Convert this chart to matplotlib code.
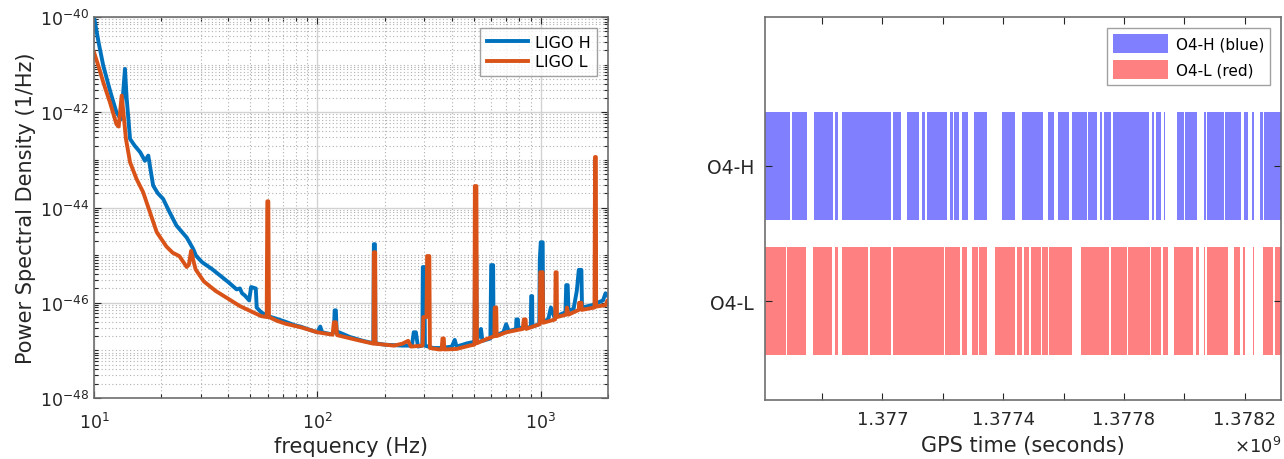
import numpy as np
import matplotlib.pyplot as plt
from matplotlib.patches import Patch
from matplotlib.ticker import LogLocator, NullFormatter, FixedLocator, FuncFormatter

# ---- PSD traces (frequency in Hz, log10 of PSD in 1/Hz) ----
freq_h = [10.0, 10.5, 11.0, 11.8, 12.6, 13.2, 13.5, 13.76, 14.0, 14.5, 15.2, 16.1, 16.9, 17.5,
          17.9, 18.4, 19.3, 20.4, 21.8, 23.4, 26.0, 27.8, 28.6, 30.5, 33.7, 36.5, 40.0, 43.5,
          45.0, 46.0, 47.4, 49.5, 50.5, 53.0, 53.5, 56.0, 60.0, 65.0, 72.0, 80.0, 84.0, 90.0,
          100.0, 103.0, 105.0, 115.0, 118.5, 119.5, 121.0, 122.0, 140.0, 160.0, 178.0, 179.0,
          181.0, 182.0, 200.0, 240.0, 265.0, 270.0, 276.0, 282.0, 295.0, 296.5, 301.0, 303.0,
          330.0, 360.0, 400.0, 412.0, 420.0, 470.0, 505.0, 508.0, 514.0, 517.0, 540.0, 548.0,
          595.0, 600.0, 612.0, 615.0, 680.0, 700.0, 720.0, 775.0, 778.0, 790.0, 795.0, 850.0,
          880.0, 903.0, 906.0, 915.0, 918.0, 985.0, 990.0, 1000.0, 1020.0, 1025.0, 1080.0,
          1110.0, 1150.0, 1290.0, 1300.0, 1320.0, 1330.0, 1400.0, 1450.0, 1480.0, 1520.0,
          1530.0, 1700.0, 1900.0, 1950.0, 2000.0]
psd_h_exp = [-40.0, -40.55, -41.02, -41.55, -42.0, -42.15, -41.6, -41.09, -41.7, -42.56, -42.7,
             -42.84, -43.02, -42.91, -43.2, -43.54, -43.7, -43.82, -44.1, -44.38, -44.63, -44.87,
             -45.01, -45.15, -45.29, -45.42, -45.57, -45.72, -45.7, -45.8, -45.85, -45.95, -45.67,
             -45.7, -46.1, -46.2, -46.28, -46.33, -46.4, -46.48, -46.5, -46.55, -46.62, -46.5,
             -46.62, -46.66, -46.62, -46.16, -46.16, -46.6, -46.72, -46.8, -46.85, -44.77, -44.77,
             -46.85, -46.88, -46.9, -46.9, -46.62, -46.62, -46.92, -46.9, -45.25, -45.25, -46.9,
             -46.95, -46.95, -46.92, -46.78, -46.92, -46.85, -46.82, -45.0, -45.0, -46.8, -46.55,
             -46.8, -46.75, -45.21, -45.21, -46.7, -46.62, -46.45, -46.6, -46.55, -46.35, -46.35,
             -46.55, -46.5, -46.52, -46.5, -45.86, -45.86, -46.5, -46.45, -45.1, -44.73, -44.73,
             -46.4, -46.35, -46.1, -46.3, -46.2, -45.63, -45.63, -46.15, -46.15, -45.75, -45.31,
             -45.31, -46.1, -46.05, -45.95, -45.8, -45.86]

freq_l = [10.0, 10.5, 11.0, 11.8, 12.6, 12.9, 13.3, 13.6, 13.9, 14.5, 15.5, 16.6, 17.8, 19.1,
          21.1, 22.5, 24.1, 26.0, 26.6, 27.2, 27.8, 28.5, 31.0, 35.0, 40.0, 45.0, 51.5, 56.0,
          59.3, 59.7, 60.3, 60.7, 66.0, 72.0, 85.0, 100.0, 117.0, 118.5, 121.0, 122.5, 150.0,
          178.5, 179.0, 181.5, 182.0, 220.0, 240.0, 255.0, 262.0, 296.0, 298.0, 308.0, 310.0,
          317.0, 319.0, 350.0, 360.0, 363.0, 368.0, 370.0, 420.0, 480.0, 505.0, 507.0, 515.0,
          518.0, 560.0, 620.0, 622.0, 632.0, 635.0, 700.0, 830.0, 840.0, 855.0, 860.0, 990.0,
          995.0, 1020.0, 1025.0, 1160.0, 1165.0, 1178.0, 1182.0, 1300.0, 1310.0, 1330.0,
          1480.0, 1485.0, 1520.0, 1525.0, 1740.0, 1750.0, 1765.0, 1770.0, 1950.0, 1990.0, 2000.0]
psd_l_exp = [-40.74, -41.05, -41.37, -41.8, -42.25, -42.3, -41.65, -42.1, -42.56, -43.05, -43.4,
             -43.68, -44.1, -44.52, -44.82, -44.95, -45.02, -45.25, -45.2, -44.91, -45.1, -45.3,
             -45.55, -45.75, -45.92, -46.07, -46.2, -46.28, -46.3, -43.87, -43.87, -46.3, -46.38,
             -46.44, -46.52, -46.62, -46.67, -46.41, -46.41, -46.68, -46.78, -46.86, -44.94,
             -44.94, -46.86, -46.9, -46.86, -46.8, -46.92, -46.9, -46.3, -46.3, -45.02, -45.02,
             -46.95, -46.98, -46.98, -46.75, -46.75, -46.98, -46.97, -46.9, -46.88, -43.55,
             -43.55, -46.85, -46.78, -46.7, -46.1, -46.1, -46.7, -46.62, -46.55, -46.35, -46.35,
             -46.55, -46.45, -45.36, -45.36, -46.42, -46.35, -45.36, -45.36, -46.3, -46.25, -46.1,
             -46.25, -46.15, -46.0, -46.0, -46.15, -46.1, -42.94, -42.94, -46.08, -46.05, -45.95,
             -46.0]

# ---- observing segments (GPS start, GPS end) ----
seg_h = [(1376600000, 1376693900), (1376699500, 1376749200), (1376774400, 1376837300),
         (1376844000, 1376851900), (1376865200, 1377027600), (1377033500, 1377061000),
         (1377082600, 1377122000), (1377132300, 1377141200), (1377148900, 1377214800),
         (1377222400, 1377233000), (1377238000, 1377253900), (1377264900, 1377282700),
         (1377302600, 1377347400), (1377397400, 1377438500), (1377463700, 1377533300),
         (1377548900, 1377569700), (1377581000, 1377619500), (1377629400, 1377677100),
         (1377682400, 1377712200), (1377718900, 1377726800), (1377735400, 1377756700),
         (1377764300, 1377883600), (1377891200, 1377898500), (1377906100, 1377924000),
         (1377931000, 1377936600), (1377975400, 1377997300), (1378002900, 1378041700),
         (1378063500, 1378071800), (1378075800, 1378129800), (1378134400, 1378186800),
         (1378196700, 1378209300), (1378224300, 1378230900), (1378249100, 1378261400),
         (1378264700, 1378330000)]
seg_l = [(1376600000, 1376679600), (1376683900, 1376747900), (1376769100, 1376834000),
         (1376842000, 1376851900), (1376866200, 1376953300), (1376958000, 1377026900),
         (1377034200, 1377204900), (1377208500, 1377257200), (1377262900, 1377281400),
         (1377297000, 1377302000), (1377304600, 1377317900), (1377320200, 1377345700),
         (1377372600, 1377438500), (1377445100, 1377463700), (1377470300, 1377486900),
         (1377491500, 1377525700), (1377530000, 1377547900), (1377553200, 1377628400),
         (1377657200, 1377751000), (1377756600, 1377809700), (1377814000, 1377885200),
         (1377890200, 1377924000), (1377928300, 1377944200), (1377966400, 1378027700),
         (1378037000, 1378047000), (1378063500, 1378066800), (1378074800, 1378145400),
         (1378162900, 1378185200), (1378192800, 1378199400), (1378225900, 1378230900),
         (1378261400, 1378294500), (1378300500, 1378330000)]

detectors = ['O4-L', 'O4-H']
psd_ticks = [1e-48, 1e-46, 1e-44, 1e-42, 1e-40]
x_ticks = [1.377e9, 1.3774e9, 1.3778e9, 1.3782e9]
x_minor = [1.3768e9, 1.3772e9, 1.3776e9, 1.3780e9]

plt.rcParams['font.family'] = ['DejaVu Sans']
text_col = '#262626'
spine_col = '#6e6e6e'

fig = plt.figure(figsize=(12.84, 4.6), dpi=100)
ax1 = fig.add_axes([94 / 1284, 1 - 399 / 460, (608 - 94) / 1284, (399 - 18) / 460])
ax2 = fig.add_axes([765 / 1284, 1 - 401 / 460, (1281 - 765) / 1284, (401 - 18) / 460])

# ---------- left: PSD ----------
ax1.loglog(freq_h, 10.0 ** np.array(psd_h_exp), color='#0072BD', lw=2.8, label='LIGO H')
ax1.loglog(freq_l, 10.0 ** np.array(psd_l_exp), color='#D95319', lw=2.8, label='LIGO L')
ax1.set_xlim(10, 2000)
ax1.set_ylim(1e-48, 1e-40)
ax1.yaxis.set_major_locator(FixedLocator(psd_ticks))
ax1.yaxis.set_minor_locator(LogLocator(base=10, subs=np.arange(1, 10), numticks=50))
ax1.yaxis.set_minor_formatter(NullFormatter())
ax1.xaxis.set_minor_locator(LogLocator(base=10, subs=np.arange(2, 10), numticks=50))
ax1.xaxis.set_minor_formatter(NullFormatter())
ax1.grid(which='major', color='#d2d2d2', lw=1.0, ls='-')
ax1.grid(which='minor', color='#b0b0b0', lw=0.8, ls=(0, (1, 2.2)))
ax1.set_axisbelow(True)
ax1.set_xlabel('frequency (Hz)', fontsize=15, color=text_col, labelpad=3)
ax1.set_ylabel('Power Spectral Density (1/Hz)', fontsize=15, color=text_col, labelpad=3)
ax1.legend(loc='upper right', fontsize=11.5, handlelength=2.6, frameon=True, fancybox=False,
           edgecolor='#8a8a8a', borderaxespad=0.7, handletextpad=0.4, labelspacing=0.3)

# ---------- right: segments ----------
ax2.broken_barh([(a, b - a) for a, b in seg_h], (1.6, 0.8), facecolor='#8080FF', edgecolor='none')
ax2.broken_barh([(a, b - a) for a, b in seg_l], (0.6, 0.8), facecolor='#FF8080', edgecolor='none')
ax2.set_xlim(1.376611e9, 1.37832e9)
ax2.set_ylim(0.27, 3.1)
ax2.set_yticks([1, 2])
ax2.set_yticklabels(detectors)
ax2.xaxis.set_major_locator(FixedLocator(x_ticks))
ax2.xaxis.set_minor_locator(FixedLocator(x_minor))
ax2.xaxis.set_major_formatter(FuncFormatter(lambda v, p: f'{v / 1e9:g}'))
ax2.set_xlabel('GPS time (seconds)', fontsize=15, color=text_col, labelpad=5)
ax2.text(1.0, -0.095, r'$\times10^{9}$', transform=ax2.transAxes, ha='right', va='top',
         fontsize=13, color=text_col)
ax2.legend(handles=[Patch(facecolor='#8080FF', label='O4-H (blue)'),
                    Patch(facecolor='#FF8080', label='O4-L (red)')],
           loc='upper right', fontsize=11, handlelength=3.6, handleheight=1.6,
           frameon=True, fancybox=False, edgecolor='#8a8a8a', borderaxespad=0.7,
           handletextpad=0.5, labelspacing=0.4)

for ax in (ax1, ax2):
    ax.tick_params(which='both', direction='in', top=True, right=True, colors=text_col,
                   labelsize=12.5, width=0.8)
    ax.tick_params(which='major', length=5)
    ax.tick_params(which='minor', length=3)
    for s in ax.spines.values():
        s.set_color(spine_col)
        s.set_linewidth(1.2)
ax1.tick_params(axis='x', which='major', pad=10)
ax2.tick_params(axis='x', which='major', pad=7)
ax2.tick_params(which='minor', length=5)
ax2.tick_params(axis='x', labelsize=13)
ax2.tick_params(axis='y', labelsize=13.5, pad=8)

fig.savefig('out.png', dpi=100)
